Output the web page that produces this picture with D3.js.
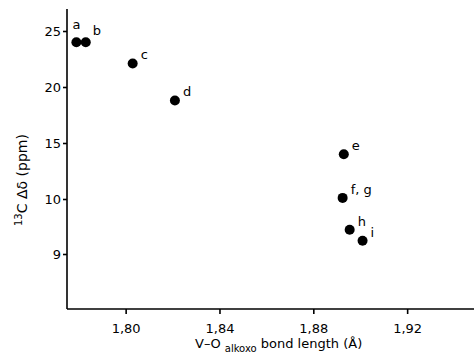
<!DOCTYPE html>
<html>
<head>
<meta charset="utf-8">
<script src="https://cdn.jsdelivr.net/npm/d3@7"></script>
<style>
  body { margin: 0; background: #fff; }
  svg text { font-family: "DejaVu Sans", sans-serif; fill: #000; }
  .axis path, .axis line { stroke: #000; stroke-width: 1.6; }
  .axis text { font-size: 13px; }
</style>
</head>
<body>
<svg width="474" height="357"></svg>
<script>
// compound labels, bond lengths (Å) and 13C shifts (ppm)
const labels = ["a", "b", "c", "d", "e", "f, g", "h", "i"];
const bondLength = [1.779, 1.783, 1.803, 1.821, 1.893, 1.8925, 1.8955, 1.901];
const shift = [24.0, 24.0, 22.1, 18.8, 14.0, 10.1, 9.44, 9.24];
const xTicks = [1.80, 1.84, 1.88, 1.92];
const yTicks = [25, 20, 15, 10, 9];

const svg = d3.select("svg");

const x = d3.scaleLinear()
    .domain([1.775, 1.9485])
    .range([67, 474]);

// the y axis is broken below 10: one unit there takes the room of five above
const y = d3.scaleLinear()
    .domain([8, 9, 10, 25])
    .range([309, 254, 199, 31]);

svg.append("g")
    .attr("class", "axis")
    .attr("transform", "translate(0,309)")
    .call(d3.axisBottom(x).tickValues(xTicks).tickSize(5).tickSizeOuter(0)
        .tickFormat(d => d3.format(".2f")(d).replace(".", ",")))
    .call(g => g.select(".domain").attr("d", "M67,0H474"))
    .selectAll("text").attr("dy", "1.2em");

svg.append("g")
    .attr("class", "axis")
    .attr("transform", "translate(67,0)")
    .call(d3.axisLeft(y).tickValues(yTicks).tickSize(4).tickSizeOuter(0))
    .call(g => g.select(".domain").attr("d", "M0,9V309"))
    .selectAll("text").attr("x", -6);

// points
svg.selectAll(".pt")
    .data(labels)
    .enter()
    .append("circle")
        .attr("class", "pt")
        .attr("cx", (d, i) => x(bondLength[i]))
        .attr("cy", (d, i) => y(shift[i]))
        .attr("r", 5)
        .attr("fill", "#000");

const offsets = { "a": [-4, -13], "b": [7, -7] };
svg.selectAll(".lab")
    .data(labels)
    .enter()
    .append("text")
        .attr("class", "lab")
        .attr("x", (d, i) => x(bondLength[i]) + (offsets[d] ? offsets[d][0] : 8))
        .attr("y", (d, i) => y(shift[i]) + (offsets[d] ? offsets[d][1] : -4))
        .style("font-size", "13px")
        .text(d => d);

// axis titles
const xt = svg.append("text")
    .attr("x", 195)
    .attr("y", 348)
    .style("font-size", "13px");
xt.append("tspan").text("V\u2013O ");
xt.append("tspan").attr("dy", 4).style("font-size", "10px").text("alkoxo");
xt.append("tspan").attr("dy", -4).text("  bond length (\u00c5)");

const yt = svg.append("text")
    .attr("transform", "translate(27,226) rotate(-90)")
    .style("font-size", "14px");
yt.append("tspan").attr("dy", -5).style("font-size", "10px").text("13");
yt.append("tspan").attr("dy", 5).text("C  \u0394\u03b4 (ppm)");
</script>
</body>
</html>
